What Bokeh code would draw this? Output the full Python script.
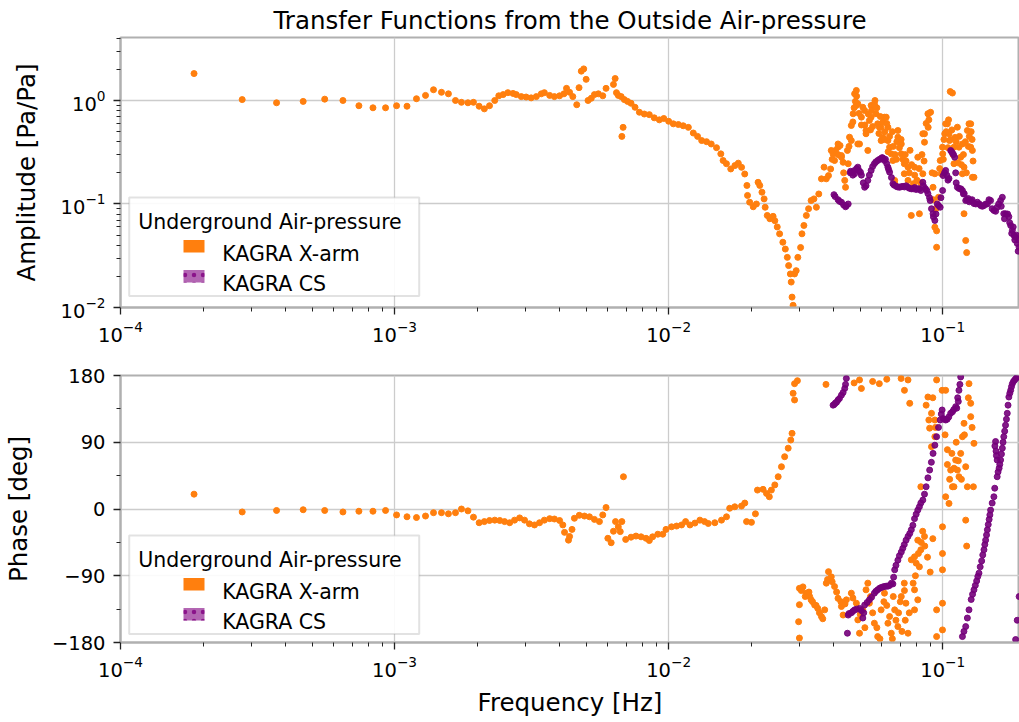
from bokeh.plotting import figure
from bokeh.layouts import column
from bokeh.models import (Range1d, FixedTicker, CustomJSTickFormatter, BoxAnnotation, Label)
from bokeh.embed import file_html
from bokeh.resources import INLINE

FONT = "DejaVu Sans"
ORANGE = "#ff7f0e"
PURPLE = "#800080"
PURPLE_DOT = "#74007a"

# ---------------- data ----------------
title_text = "Transfer Functions from the Outside Air-pressure"
legend_title = "Underground Air-pressure"
series_names = ["KAGRA X-arm", "KAGRA CS"]

# amplitude, KAGRA X-arm (orange)
xarm_amp_f = [
    1.855e-4, 2.78e-4, 3.71e-4, 4.64e-4, 5.56e-4, 6.48e-4, 7.41e-4, 8.34e-4, 9.27e-4,
    1.017e-3, 1.11e-3, 1.202e-3, 1.297e-3, 1.387e-3, 1.483e-3, 1.572e-3, 1.668e-3, 1.754e-3,
    1.852e-3, 1.94e-3, 2.035e-3, 2.126e-3, 2.22e-3, 2.32e-3, 2.40e-3, 2.49e-3, 2.59e-3,
    2.705e-3, 2.78e-3, 2.90e-3, 3.02e-3, 3.15e-3, 3.29e-3, 3.43e-3, 3.52e-3, 3.68e-3,
    3.83e-3, 4.0e-3, 4.15e-3, 4.24e-3, 4.35e-3, 4.47e-3, 4.62e-3, 4.71e-3, 4.80e-3,
    4.90e-3, 5.0e-3, 5.08e-3, 5.22e-3, 5.36e-3, 5.54e-3, 5.75e-3, 5.91e-3, 6.29e-3,
    6.38e-3, 6.45e-3, 6.55e-3, 6.71e-3, 6.82e-3, 6.75e-3, 6.89e-3, 7.08e-3, 7.29e-3,
    7.54e-3, 7.82e-3, 8.15e-3, 8.50e-3, 8.86e-3, 9.25e-3, 9.6e-3, 1.0e-2,
    1.04e-2, 1.085e-2, 1.13e-2, 1.18e-2, 1.23e-2, 1.275e-2, 1.32e-2, 1.375e-2, 1.43e-2,
    1.495e-2, 1.55e-2, 1.58e-2, 1.625e-2, 1.685e-2, 1.745e-2, 1.795e-2, 1.845e-2, 1.895e-2,
    1.93e-2, 1.94e-2, 1.975e-2, 2.035e-2, 2.09e-2, 2.12e-2, 2.15e-2, 2.19e-2, 2.23e-2,
    2.25e-2, 2.29e-2, 2.34e-2, 2.405e-2, 2.44e-2, 2.49e-2, 2.54e-2, 2.61e-2, 2.665e-2,
    2.71e-2, 2.74e-2, 2.78e-2, 2.80e-2, 2.82e-2, 2.845e-2, 2.88e-2, 2.92e-2, 2.96e-2,
    3.03e-2, 3.065e-2, 3.115e-2, 3.18e-2, 3.24e-2, 3.31e-2, 3.39e-2, 3.46e-2, 3.53e-2,
    3.61e-2, 3.69e-2, 3.76e-2, 3.83e-2, 3.9e-2, 3.98e-2, 4.06e-2, 4.15e-2, 4.22e-2,
    4.27e-2, 4.33e-2, 4.39e-2, 4.42e-2, 4.49e-2, 4.57e-2, 4.64e-2, 4.71e-2, 4.77e-2,
    4.84e-2, 4.84e-2, 4.97e-2, 4.90e-2, 5.11e-2, 5.25e-2, 5.33e-2, 5.48e-2, 5.66e-2,
    5.79e-2, 5.96e-2, 6.13e-2, 6.31e-2, 6.40e-2, 6.58e-2, 6.68e-2, 6.86e-2, 7.06e-2,
    7.24e-2, 7.47e-2, 7.68e-2, 7.82e-2, 8.11e-2, 8.22e-2, 8.46e-2, 8.58e-2, 8.87e-2,
    9.03e-2, 9.22e-2, 9.36e-2, 9.5e-2, 9.65e-2, 9.88e-2, 0.1, 0.1017, 0.104,
    0.1058, 0.1085, 0.1099, 0.1131, 0.1146, 0.118, 0.1196, 0.1213, 0.1223,
    0.123, 0.1265, 0.1283, 0.130,
    3.92e-2, 4.03e-2, 4.15e-2, 4.27e-2, 4.52e-2, 4.64e-2, 4.90e-2, 5.05e-2, 5.19e-2,
    5.25e-2, 5.40e-2, 5.48e-2, 5.63e-2, 5.71e-2, 5.87e-2, 6.04e-2, 6.22e-2, 6.31e-2,
    6.49e-2, 6.68e-2, 6.86e-2, 7.06e-2, 7.24e-2, 7.47e-2, 7.89e-2, 8.46e-2, 8.58e-2,
    8.83e-2, 9.36e-2, 9.5e-2, 9.79e-2, 0.0998, 0.1025, 0.1054, 0.1065, 0.1099,
    0.1163, 0.1196, 0.1247, 0.1265, 0.1283,
    0.047, 0.048, 0.0485, 0.0495, 0.052, 0.0535, 0.055, 0.0555, 0.0575,
    0.0585, 0.0595, 0.0605, 0.0615, 0.0625, 0.064, 0.066, 0.067, 0.068,
    0.0695, 0.0715, 0.073, 0.0755, 0.077, 0.079, 0.0805, 0.082, 0.084,
    0.087, 0.089, 0.0915, 0.101, 0.103, 0.105, 0.107, 0.109, 0.112,
    0.115, 0.117, 0.119, 0.121, 0.125, 0.127, 0.129,
    0.0395, 0.0415, 0.0435, 0.0455, 0.0475, 0.0505, 0.0545, 0.0565, 0.0592,
    0.0612, 0.0632, 0.0655, 0.0678, 0.0705, 0.0735, 0.076, 0.0785, 0.083,
    0.0855, 0.0885, 0.0925, 0.0945, 0.0975, 0.1005, 0.1045, 0.108, 0.111,
    0.1135, 0.118, 0.122, 0.124, 0.128,
]
xarm_amp = [
    1.82, 1.02, 0.95, 0.98, 1.03, 1.0, 0.89, 0.85, 0.85,
    0.89, 0.88, 1.04, 1.12, 1.27, 1.20, 1.16, 1.0, 0.96,
    0.95, 0.96, 0.88, 0.83, 0.89, 1.0, 1.11, 1.14, 1.19,
    1.17, 1.14, 1.09, 1.08, 1.06, 1.09, 1.16, 1.19, 1.12,
    1.09, 1.11, 1.16, 1.31, 1.20, 1.09, 0.91, 1.33, 1.92,
    2.02, 1.60, 1.0, 1.05, 1.14, 1.16, 1.11, 1.31, 1.43,
    1.63, 1.19, 1.12, 1.09, 0.55, 0.45, 1.02, 0.98, 0.94,
    0.86, 0.77, 0.74, 0.73, 0.68, 0.65, 0.67, 0.63,
    0.595, 0.586, 0.57, 0.55, 0.485, 0.45, 0.41, 0.40, 0.38,
    0.35, 0.305, 0.263, 0.245, 0.218, 0.235, 0.248, 0.226, 0.195,
    0.151, 0.121, 0.104, 0.094, 0.1, 0.162, 0.151, 0.13, 0.112,
    0.093, 0.0775, 0.072, 0.076, 0.069, 0.06, 0.0515, 0.0427, 0.0367,
    0.0305, 0.0254, 0.0211, 0.0176, 0.0126, 0.0105, 0.0211, 0.0227, 0.0305,
    0.038, 0.0515, 0.062, 0.0775, 0.09, 0.108, 0.112, 0.093, 0.125,
    0.175, 0.227, 0.175, 0.188, 0.218, 0.305, 0.329, 0.354, 0.367,
    0.294, 0.253, 0.169, 0.145, 0.329, 0.442, 0.573, 0.744, 1.16,
    1.25, 0.895, 0.38, 0.38, 0.86, 0.477, 0.329, 0.69, 1.0,
    0.595, 0.41, 0.69, 0.552, 0.354, 0.263, 0.169, 0.442, 0.305,
    0.196, 0.227, 0.0775, 0.157, 0.283, 0.0805, 0.196, 0.477, 0.744,
    0.77, 0.145, 0.0597, 0.0382, 0.116, 0.196, 0.305, 0.477, 0.595,
    0.41, 1.18, 0.245, 0.552, 0.354, 0.196, 0.0805, 0.0444, 0.0339,
    0.513, 0.595, 0.329, 0.181,
    0.329, 0.263, 0.38, 0.283, 0.245, 0.41, 0.93, 0.69, 0.80,
    0.513, 0.641, 0.895, 0.93, 0.744, 0.552, 0.442, 0.69, 0.41,
    0.305, 0.157, 0.513, 0.38, 0.245, 0.169, 0.227, 0.477, 0.395,
    0.744, 0.196, 0.055, 0.263, 0.354, 0.595, 0.477, 1.22, 0.354,
    0.283, 0.227, 0.595, 0.354, 0.181,
    0.62, 0.98, 1.1, 0.75, 0.58, 0.74, 0.8, 0.56, 0.85,
    0.48, 0.55, 0.62, 0.5, 0.6, 0.45, 0.36, 0.3, 0.4,
    0.35, 0.27, 0.3, 0.2, 0.24, 0.19, 0.17, 0.22, 0.3,
    0.6, 0.65, 0.2, 0.42, 0.5, 0.65, 0.42, 0.3, 0.4,
    0.45, 0.24, 0.3, 0.4, 0.45, 0.5, 0.26,
    0.27, 0.3, 0.2, 0.36, 0.85, 0.58, 0.52, 0.88, 0.7,
    0.42, 0.32, 0.5, 0.27, 0.42, 0.26, 0.33, 0.15, 0.16,
    0.26, 0.55, 0.11, 0.09, 0.22, 0.27, 0.35, 0.52, 0.44,
    0.25, 0.38, 0.2, 0.36, 0.42,
]

# amplitude, KAGRA CS (purple)
cs_amp_f = [
    4.01e-2, 4.15e-2, 4.27e-2, 4.42e-2, 4.52e-2, 4.61e-2, 4.77e-2, 4.90e-2, 5.01e-2,
    5.19e-2, 5.33e-2, 5.48e-2, 5.63e-2, 5.79e-2, 5.96e-2, 6.04e-2, 6.13e-2, 6.31e-2,
    6.40e-2, 6.58e-2, 6.77e-2, 6.96e-2, 7.17e-2, 7.47e-2, 7.68e-2, 7.89e-2, 8.11e-2,
    8.32e-2, 8.46e-2, 8.64e-2, 8.83e-2, 9.0e-2, 9.22e-2, 9.36e-2, 9.65e-2, 9.79e-2,
    9.99e-2, 0.1004, 0.1025, 0.1054, 0.1069, 0.1087, 0.1106, 0.1131, 0.1148, 0.118,
    0.1198, 0.1213, 0.1239, 0.1265, 0.130, 0.1338, 0.1375, 0.1414, 0.1455, 0.1495,
    0.1537, 0.158, 0.1626, 0.165, 0.167, 0.1695, 0.1743, 0.177, 0.1795, 0.182,
    0.1845, 0.187, 0.190,
    0.0405, 0.0420, 0.0435, 0.0445, 0.046, 0.047, 0.0475, 0.0485, 0.0495,
    0.0505, 0.0513, 0.0525, 0.054, 0.0555, 0.057, 0.0588, 0.0600, 0.0618,
    0.0625, 0.0635, 0.065, 0.0665, 0.0685, 0.0705, 0.0725, 0.0735, 0.0755,
    0.078, 0.0800, 0.0820, 0.0850, 0.0875, 0.0895, 0.091, 0.0925, 0.0945,
    0.0955, 0.0985, 0.1015, 0.1035, 0.1045, 0.1078, 0.1095, 0.1115, 0.112,
    0.1165, 0.1190, 0.1225, 0.125, 0.128, 0.132, 0.136, 0.1395, 0.1435,
    0.1475, 0.1515, 0.156, 0.16, 0.1635, 0.168, 0.1725, 0.1755, 0.1785,
    0.1808, 0.1832, 0.1858, 0.1885, 0.19,
]
cs_amp = [
    0.123, 0.110, 0.104, 0.094, 0.100, 0.207, 0.196, 0.227, 0.203,
    0.145, 0.169, 0.211, 0.245, 0.263, 0.273, 0.279, 0.263, 0.227,
    0.203, 0.157, 0.148, 0.145, 0.148, 0.145, 0.14, 0.144, 0.14,
    0.135, 0.162, 0.141, 0.126, 0.108, 0.0805, 0.0693, 0.0966, 0.093,
    0.135, 0.188, 0.211, 0.176, 0.329, 0.308, 0.283, 0.145, 0.141, 0.135,
    0.126, 0.108, 0.113, 0.108, 0.101, 0.104, 0.0966, 0.0966, 0.100, 0.108,
    0.0866, 0.093, 0.108, 0.116, 0.0805, 0.0805, 0.0754, 0.062, 0.0555, 0.0497,
    0.0477, 0.0416, 0.0382,
    0.118, 0.106, 0.098, 0.096, 0.2, 0.19, 0.21, 0.22, 0.21,
    0.19, 0.16, 0.15, 0.19, 0.23, 0.255, 0.27, 0.28, 0.27,
    0.245, 0.215, 0.18, 0.152, 0.146, 0.147, 0.146, 0.15, 0.142,
    0.14, 0.138, 0.14, 0.15, 0.135, 0.115, 0.09, 0.075, 0.08,
    0.1, 0.115, 0.2, 0.19, 0.17, 0.32, 0.3, 0.2, 0.16,
    0.14, 0.125, 0.11, 0.105, 0.11, 0.1, 0.1, 0.095, 0.1,
    0.11, 0.09, 0.085, 0.1, 0.095, 0.072, 0.08, 0.066, 0.052,
    0.06, 0.045, 0.05, 0.035, 0.045,
]

# phase, KAGRA X-arm (orange)
xarm_ph_f = [
    1.855e-4, 2.78e-4, 3.71e-4, 4.64e-4, 5.56e-4, 6.48e-4, 7.41e-4, 8.34e-4, 9.27e-4,
    1.017e-3, 1.11e-3, 1.202e-3, 1.297e-3, 1.387e-3, 1.483e-3, 1.572e-3, 1.668e-3, 1.754e-3,
    1.852e-3, 1.94e-3, 2.035e-3, 2.126e-3, 2.22e-3, 2.32e-3, 2.42e-3, 2.52e-3, 2.63e-3,
    2.74e-3, 2.86e-3, 2.98e-3, 3.105e-3, 3.24e-3, 3.38e-3, 3.52e-3, 3.68e-3, 3.83e-3,
    4.0e-3, 4.11e-3, 4.17e-3, 4.31e-3, 4.35e-3, 4.44e-3, 4.53e-3, 4.72e-3, 4.93e-3,
    5.14e-3, 5.36e-3, 5.59e-3, 5.75e-3, 5.91e-3, 6.0e-3, 6.17e-3, 6.29e-3, 6.40e-3,
    6.55e-3, 6.66e-3, 6.75e-3, 6.84e-3, 6.97e-3, 7.29e-3, 7.60e-3, 7.93e-3, 8.27e-3,
    8.50e-3, 8.74e-3, 9.13e-3, 9.52e-3, 9.78e-3,
    1.025e-2, 1.069e-2, 1.115e-2, 1.153e-2, 1.196e-2, 1.247e-2, 1.30e-2, 1.352e-2, 1.395e-2,
    1.474e-2, 1.559e-2, 1.626e-2, 1.67e-2, 1.743e-2, 1.844e-2, 1.896e-2, 1.924e-2, 2.005e-2,
    2.073e-2, 2.109e-2, 2.21e-2, 2.275e-2, 2.33e-2, 2.37e-2, 2.44e-2, 2.51e-2, 2.58e-2,
    2.65e-2, 2.73e-2, 2.79e-2, 2.82e-2, 2.845e-2, 2.88e-2, 2.95e-2, 2.88e-2,
    2.98e-2, 3.0e-2, 3.0e-2, 3.0e-2, 3.09e-2, 3.18e-2, 3.27e-2, 3.31e-2, 3.41e-2,
    3.50e-2, 3.61e-2, 3.71e-2, 3.76e-2, 3.83e-2, 3.92e-2, 4.03e-2, 4.15e-2, 4.27e-2,
    4.33e-2, 4.45e-2, 4.64e-2, 4.84e-2, 4.90e-2, 4.97e-2, 5.11e-2, 5.25e-2, 5.33e-2,
    5.40e-2, 5.63e-2, 5.79e-2, 5.96e-2, 6.13e-2, 6.31e-2, 6.49e-2, 6.68e-2, 6.86e-2,
    7.06e-2, 7.24e-2, 7.34e-2, 7.47e-2,
    4.97e-2, 5.05e-2, 5.87e-2, 7.47e-2, 7.58e-2,
    7.68e-2, 7.89e-2, 7.89e-2, 7.89e-2, 8.0e-2, 8.11e-2, 8.11e-2, 8.22e-2, 8.32e-2,
    8.32e-2, 8.58e-2, 8.83e-2, 8.96e-2, 9.1e-2, 9.1e-2, 9.36e-2, 9.36e-2, 9.5e-2,
    9.5e-2, 9.5e-2, 9.95e-2, 0.0998, 0.0998, 0.0998, 0.0998, 0.0998, 0.1025,
    0.1025, 0.104, 0.1054, 0.1069, 0.1085, 0.1099, 0.1115, 0.1131, 0.1146,
    0.1163, 0.118, 0.1196, 0.1213, 0.1213, 0.1223, 0.123, 0.1247, 0.1265,
    0.1265, 0.1294, 0.130,
    0.061, 0.064, 0.066, 0.069, 0.071, 0.073, 0.086, 0.088, 0.09,
    0.092, 0.087, 0.089, 0.092, 0.094, 0.102, 0.104, 0.106, 0.108,
    0.11, 0.112, 0.114, 0.117, 0.12, 0.124, 0.128,
    0.0305, 0.0315, 0.0325, 0.0335, 0.0345, 0.0355, 0.0365, 0.038, 0.0395,
    0.041, 0.0425, 0.044, 0.047, 0.05, 0.052, 0.0545, 0.0555, 0.0575,
    0.059, 0.0625, 0.0655, 0.0675, 0.07, 0.0725, 0.0755, 0.078, 0.0795,
    0.0815, 0.0835, 0.0845,
    0.0375, 0.0475, 0.0555, 0.0625, 0.0705, 0.0725,
]
xarm_ph = [
    20, -4, -2, -1, -2, -4, -3, -3, -2,
    -8, -10.5, -11.5, -9.5, -5, -5, -6.5, -5, 0,
    -2.5, -11, -18.5, -17, -15.5, -15, -15.5, -17, -18.5,
    -15, -12, -15, -20, -21.5, -18.5, -15, -13, -13.5,
    -15.5, -21.5, -31.5, -42, -37, -27.5, -12.5, -8.5, -9.5,
    -10.5, -14, -17, -8, 2, -39.5, -45.5, -30, -17,
    -24, -30.5, -17, 43.5, -41, -38, -36.5, -37.5, -39.5,
    -42.5, -37.5, -34, -34, -27.5,
    -24, -23, -21.5, -17, -21.5, -19, -15, -17, -19.5,
    -18.5, -15, -10.5, 1, 3, 4, 8, -17, -18,
    -6.5, 25.5, 26.5, 21, 16.5, 25.5, 32.5, 43.5, 57,
    70.5, 82, 93, 102, 156, 169, 173, 147,
    -152, -107, -174, -129, -105, -113.5, -118, -122.5, -129.5,
    -134, -145, -136, -100, -84.5, -91.5, -104.5, -120.5, -131.5,
    -143, -122.5, -113.5, -127, -149.5, -167.5, -136, -109, -100,
    -127, -154, -172, -136, -113.5, -154, -167.5, -136, -158.5,
    -118, -100, -127, -167.5,
    174, 162.5, 169, 174, 142.5,
    -68.5, -109, -136, -64.5, -73, -122.5, -42, -78, -55,
    30, -37, 151, 109, 129, 84, 120, 97.5, 174,
    -136, -172, 160, -24, -60, -82, -127, -163, 160,
    16.5, 80, 7.5, 52.5, 30, 30, 66, 52.5, 43.5,
    75, 97.5, 115.5, 57, -15, -50, 30, 169, 124.5,
    142.5, 30, 88.5,
    -125, -145, -118, -140, -165, -150, -50, -65, -85,
    -40, 140, 120, 150, 110, 100, 60, 40, 75,
    55, 90, 65, 40, 100, 150, 110,
    -110, -118, -112, -125, -130, -140, -148, -95, -98,
    -112, -125, -128, -120, -142, -160, -118, -140, -160,
    -175, -130, -175, -150, -125, -110, -140, -100, -90,
    -60, -45, -30,
    168, 170, 172, 175, 176, 160,
]

# phase, KAGRA CS (purple)
cs_ph_f = [
    3.98e-2, 4.06e-2, 4.15e-2, 4.27e-2, 4.39e-2, 4.45e-2,
    4.49e-2, 4.52e-2, 4.64e-2, 4.77e-2, 4.97e-2, 5.11e-2, 5.19e-2, 5.40e-2, 5.63e-2,
    5.79e-2, 5.96e-2, 6.13e-2, 6.31e-2, 6.58e-2, 6.68e-2, 6.86e-2, 7.06e-2, 7.24e-2,
    7.47e-2, 7.68e-2, 7.89e-2, 8.11e-2, 8.32e-2, 8.46e-2, 8.70e-2, 8.96e-2, 9.22e-2,
    9.5e-2, 9.79e-2, 9.95e-2, 0.1004, 0.1025, 0.1052, 0.1069, 0.1097, 0.1115,
    0.1134, 0.1146, 0.1163,
    0.118, 0.1213, 0.1247, 0.127, 0.130, 0.1330, 0.1356, 0.1387, 0.1414, 0.1434,
    0.1455, 0.1477, 0.1495, 0.1537, 0.1559, 0.158, 0.158, 0.1606, 0.1626, 0.165,
    0.167, 0.1695, 0.172, 0.1743, 0.177, 0.1795, 0.183, 0.187,
    0.1845, 0.187, 0.190,
    0.0402, 0.0410, 0.042, 0.0433, 0.0442,
    0.0455, 0.047, 0.0485, 0.0505, 0.0515, 0.053, 0.055, 0.057, 0.0588,
    0.0605, 0.0622, 0.064, 0.0650, 0.0662, 0.0675, 0.0695, 0.0715, 0.0735,
    0.0758, 0.0778, 0.080, 0.0822, 0.0858, 0.0883, 0.0909, 0.0936, 0.0965,
    0.0988, 0.1015, 0.1038, 0.1085, 0.1125, 0.1140, 0.1155,
    0.1195, 0.123, 0.1285, 0.1315, 0.1343, 0.137, 0.14, 0.1424, 0.1445,
    0.1466, 0.1486, 0.1515, 0.1548, 0.1592, 0.1615, 0.1638, 0.1660, 0.1683,
    0.1708, 0.1731, 0.1757, 0.1782, 0.1812, 0.185,
    0.155, 0.1565, 0.157,
]
cs_ph = [
    140, 143, 147, 153.5, 162.5, 176,
    -167.5, -143, -140, -136, -134, -147, -129.5, -122.5, -113.5,
    -109, -106, -104.5, -104, -101, -82, -69, -58, -48,
    -37, -28, -13, -1.5, 8, 12, 30, 52.5, 75,
    97.5, 120, 133.5, 122, 120, 124, 129, 134, 138,
    150, 160, 178,
    -172, -158.5, -136, -122, -109, -97, -86.5, -70, -55, -42,
    -28, -14, -1.5, 16.5, 91, 43.5, 66, 55, 66, 82,
    97.5, 113, 129, 151, 160, 169, 174, 178,
    -176, -150, -118,
    141, 144, 149, 157, 168,
    -141, -138, -135, -137, -140, -126, -119, -111, -107,
    -105, -104, -103, -100, -92, -76, -63, -53, -42,
    -33, -22, -7, 3, 20, 42, 63, 86, 110,
    128, 121, 121, 131, 136, 145, 168,
    -165, -147, -115, -103, -91, -78, -62, -48, -35,
    -21, -8, 8, 28, 50, 60, 74, 90, 105,
    121, 140, 156, 165, 172, 176,
    85, 78, 72,
]

x_major = [1e-4, 1e-3, 1e-2, 1e-1]
x_minor = [m * 10.0 ** e for e in (-4, -3, -2, -1) for m in range(2, 10)]
amp_major = [1e-2, 1e-1, 1e0]
amp_minor = [m * 10.0 ** e for e in (-2, -1) for m in range(2, 10)] + [2, 3, 4]
ph_major = [-180, -90, 0, 90, 180]
ph_minor = [-135, -45, 45, 135]

X_START, X_END = 1e-4, 0.1906
SPINE = "#b0b0b0"


def style(p):
    p.background_fill_color = "white"
    p.border_fill_color = "white"
    p.outline_line_color = SPINE
    p.outline_line_width = 2
    for ax in p.axis:
        ax.axis_line_color = SPINE
        ax.axis_line_width = 2
        ax.major_tick_line_color = "#222222"
        ax.major_tick_line_width = 1.3
        ax.major_tick_out = 7
        ax.major_tick_in = 0
        ax.minor_tick_line_color = "#222222"
        ax.minor_tick_line_width = 1
        ax.minor_tick_out = 4
        ax.minor_tick_in = 0
        ax.major_label_text_font = FONT
        ax.major_label_text_font_size = "19.5px"
        ax.major_label_text_color = "black"
        ax.axis_label_text_font = FONT
        ax.axis_label_text_font_size = "24.5px"
        ax.axis_label_text_font_style = "normal"
        ax.axis_label_text_color = "black"
    for g in p.grid:
        g.grid_line_color = "#cccccc"
        g.grid_line_width = 1.3


def add_legend(p, top):
    """Legend drawn with canvas-unit annotations: box, title, two patches, two labels."""
    cu = dict(left_units="canvas", right_units="canvas", top_units="canvas", bottom_units="canvas")
    p.add_layout(BoxAnnotation(left=128.7, right=418.7, top=top, bottom=top + 98.5,
                               fill_color="white", fill_alpha=0.9,
                               line_color="#a0a0a0", line_width=2, **cu))
    p.add_layout(BoxAnnotation(left=183, right=204, top=top + 42.5, bottom=top + 55,
                               fill_color=ORANGE, fill_alpha=1.0, line_color=None, **cu))
    p.add_layout(BoxAnnotation(left=183, right=204, top=top + 72.5, bottom=top + 85,
                               fill_color=PURPLE, fill_alpha=0.6, line_color=None,
                               hatch_pattern="dot", hatch_color=PURPLE, hatch_alpha=0.8,
                               hatch_scale=9, hatch_weight=2, **cu))
    for txt, x, dy in [(legend_title, 137.7, 24.8), (series_names[0], 221.7, 56.0),
                       (series_names[1], 221.7, 86.5)]:
        p.add_layout(Label(x=x, y=top + dy, x_units="canvas", y_units="canvas", text=txt,
                           text_font=FONT, text_font_size="20.5px", text_color="black",
                           text_baseline="alphabetic", text_align="left"))


# ---------------- top: amplitude ----------------
p1 = figure(width=1019, height=346, x_axis_type="log", y_axis_type="log",
            x_range=Range1d(X_START, X_END), y_range=Range1d(0.01, 4.06),
            output_backend="svg", toolbar_location=None,
            min_border_left=118, min_border_right=0, min_border_top=37, min_border_bottom=39)
p1.title.text = title_text
p1.title.text_font = FONT
p1.title.text_font_size = "24.5px"
p1.title.text_font_style = "normal"
p1.title.text_color = "black"
p1.title.align = "center"
p1.title.standoff = 6

p1.scatter(xarm_amp_f, xarm_amp, size=6, color=ORANGE, alpha=1.0)
p1.scatter(cs_amp_f, cs_amp, size=6, color=PURPLE_DOT, alpha=0.9)
p1.xaxis.ticker = FixedTicker(ticks=x_major, minor_ticks=x_minor)
p1.yaxis.ticker = FixedTicker(ticks=amp_major, minor_ticks=amp_minor)
p1.yaxis.axis_label = "Amplitude [Pa/Pa]"
style(p1)
p1.xaxis.major_label_standoff = 6
p1.yaxis.major_label_standoff = 8
p1.yaxis.axis_label_standoff = 17
add_legend(p1, 197)

# ---------------- bottom: phase ----------------
p2 = figure(width=1019, height=376, x_axis_type="log",
            x_range=p1.x_range, y_range=Range1d(-180, 180),
            output_backend="svg", toolbar_location=None,
            min_border_left=118, min_border_right=0, min_border_top=29, min_border_bottom=80)
p2.scatter(xarm_ph_f, xarm_ph, size=6, color=ORANGE, alpha=1.0)
p2.scatter(cs_ph_f, cs_ph, size=6, color=PURPLE_DOT, alpha=0.9)
p2.xaxis.ticker = FixedTicker(ticks=x_major, minor_ticks=x_minor)
p2.yaxis.ticker = FixedTicker(ticks=ph_major, minor_ticks=ph_minor)
p2.yaxis.formatter = CustomJSTickFormatter(
    code="return tick < 0 ? '\u2212' + Math.abs(tick) : String(tick);")
p2.yaxis.axis_label = "Phase [deg]"
p2.xaxis.axis_label = "Frequency [Hz]"
style(p2)
p2.xaxis.major_label_standoff = 6
p2.xaxis.axis_label_standoff = 8
p2.yaxis.major_label_standoff = 8
p2.yaxis.axis_label_standoff = 16
add_legend(p2, 189)

layout = column(p1, p2, spacing=0)
open("out.html", "w").write(file_html(layout, INLINE, title="Transfer Functions"))
